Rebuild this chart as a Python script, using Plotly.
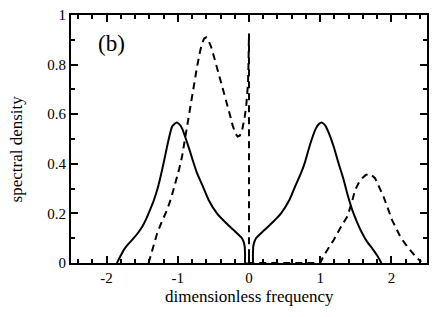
import plotly.graph_objects as go

# solid curve
solid_x = [-1.855, -1.81, -1.76, -1.70, -1.62, -1.55, -1.50, -1.44, -1.39, -1.34, -1.29, -1.245,
           -1.20, -1.165, -1.13, -1.08, -1.02, -0.98, -0.94, -0.85, -0.78, -0.73, -0.65,
           -0.567, -0.45, -0.30, -0.216, -0.15, -0.098, -0.075, -0.06, -0.055, -0.052,
           0.052, 0.055, 0.06, 0.075, 0.098, 0.15, 0.216, 0.30, 0.45, 0.567, 0.65, 0.73,
           0.79, 0.86, 0.94, 0.98, 1.025, 1.07, 1.12, 1.19, 1.26, 1.33, 1.39, 1.45, 1.52,
           1.59, 1.66, 1.73, 1.80, 1.86]
solid_y = [0.0, 0.025, 0.052, 0.075, 0.10, 0.125, 0.146, 0.18, 0.214, 0.25, 0.294, 0.345,
           0.402, 0.45, 0.496, 0.55, 0.566, 0.56, 0.543, 0.469, 0.405, 0.362, 0.31,
           0.254, 0.20, 0.155, 0.133, 0.115, 0.10, 0.085, 0.066, 0.03, 0.0,
           0.0, 0.03, 0.066, 0.085, 0.10, 0.115, 0.133, 0.155, 0.20, 0.254, 0.31, 0.362,
           0.41, 0.48, 0.543, 0.56, 0.566, 0.555, 0.525, 0.469, 0.40, 0.335, 0.27, 0.214, 0.163,
           0.12, 0.085, 0.059, 0.03, 0.0]

# dashed curve
dashed_x = [-1.41, -1.35, -1.29, -1.22, -1.15, -1.09, -1.035, -0.98, -0.94, -0.895, -0.834,
            -0.78, -0.73, -0.69, -0.66, -0.63, -0.60, -0.57, -0.53, -0.49, -0.45,
            -0.40, -0.35, -0.31, -0.27, -0.23, -0.19, -0.16, -0.13, -0.10, -0.08, -0.06,
            -0.04, -0.025, -0.015, -0.008, -0.003, 0.0, 0.0, 1.0,
            1.05, 1.12, 1.19, 1.28, 1.38, 1.44, 1.49, 1.54, 1.59, 1.64, 1.68, 1.72, 1.77,
            1.83, 1.89, 1.95, 2.01, 2.07, 2.125, 2.20, 2.28, 2.35, 2.42]
dashed_y = [0.0, 0.06, 0.12, 0.17, 0.214, 0.265, 0.32, 0.38, 0.43, 0.51, 0.617,
            0.71, 0.79, 0.85, 0.885, 0.905, 0.91, 0.898, 0.87, 0.83, 0.79,
            0.74, 0.685, 0.645, 0.60, 0.555, 0.522, 0.51, 0.513, 0.53, 0.555, 0.59,
            0.63, 0.67, 0.72, 0.79, 0.87, 0.925, 0.0, 0.0,
            0.03, 0.06, 0.093, 0.14, 0.187, 0.24, 0.294, 0.322, 0.342, 0.355, 0.359, 0.355,
            0.342, 0.305, 0.267, 0.22, 0.173, 0.138, 0.106, 0.075, 0.045, 0.022, 0.005]

x_ticks = [-2, -1, 0, 1, 2]
y_ticks = [0, 0.2, 0.4, 0.6, 0.8, 1]
y_tick_labels = ["0", "0.2", "0.4", "0.6", "0.8", "1"]

FONT = "Liberation Serif"

fig = go.Figure()
fig.add_trace(go.Scatter(x=solid_x, y=solid_y, mode="lines",
                         line=dict(color="black", width=2, shape="spline", smoothing=0.5)))
fig.add_trace(go.Scatter(x=dashed_x, y=dashed_y, mode="lines",
                         line=dict(color="black", width=2, dash="7px,5px")))

axis_common = dict(showgrid=False, zeroline=False, showline=True, linecolor="black",
                   linewidth=2, mirror="ticks", ticks="inside", ticklen=7, tickwidth=2,
                   tickcolor="black", automargin=False,
                   tickfont=dict(family=FONT, size=15, color="black"))

fig.update_xaxes(range=[-2.5, 2.5], tickvals=x_ticks, ticktext=[str(v) for v in x_ticks],
                 minor=dict(dtick=0.2, tick0=0, ticks="inside", ticklen=4, tickwidth=1.5,
                            tickcolor="black", showgrid=False),
                 **axis_common)
fig.update_yaxes(range=[0, 1], tickvals=y_ticks, ticktext=y_tick_labels,
                 minor=dict(dtick=0.1, tick0=0, ticks="inside", ticklen=4, tickwidth=1.5,
                            tickcolor="black", showgrid=False),
                 **axis_common)

fig.add_annotation(x=0.07, y=0.885, xref="paper", yref="paper", text="(b)",
                   showarrow=False, font=dict(family=FONT, size=23, color="black"),
                   xanchor="left", yanchor="middle")
fig.add_annotation(x=0.5, y=-0.135, xref="paper", yref="paper", text="dimensionless frequency",
                   showarrow=False, font=dict(family=FONT, size=17, color="black"),
                   xanchor="center", yanchor="middle")
fig.add_annotation(x=-0.153, y=0.46, xref="paper", yref="paper", text="spectral density",
                   showarrow=False, textangle=-90,
                   font=dict(family=FONT, size=17, color="black"),
                   xanchor="center", yanchor="middle")

fig.update_layout(width=436, height=317, margin=dict(l=71, r=9, t=15, b=54),
                  paper_bgcolor="white", plot_bgcolor="white", showlegend=False)

fig.write_html("out.html", config={"responsive": False, "displayModeBar": False},
               post_script="document.body.style.margin='0';document.body.style.padding='0';")
